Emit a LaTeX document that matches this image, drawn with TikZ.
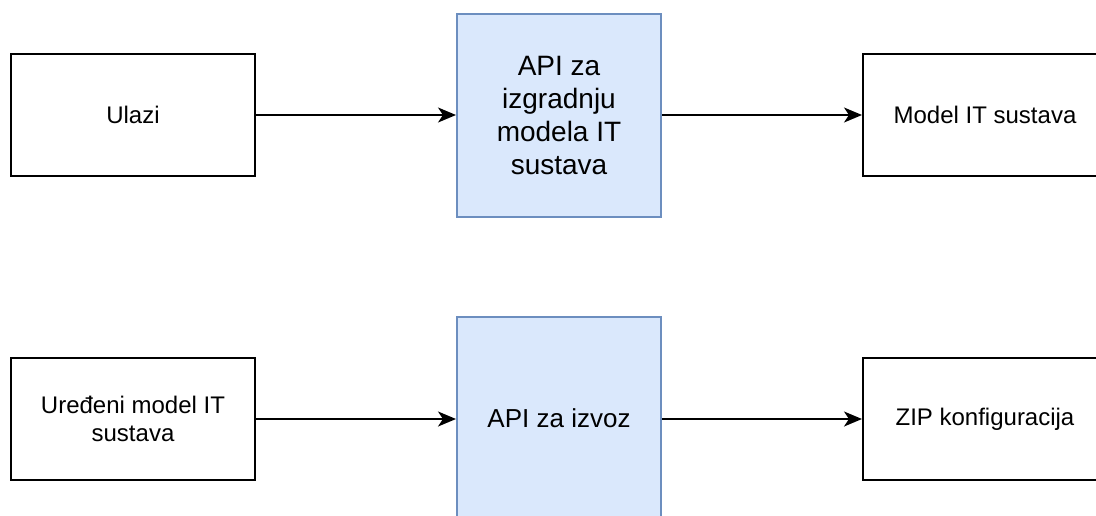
\documentclass[tikz,border=0pt]{standalone}
\usepackage{fontspec}
\setmainfont{Liberation Sans}
\usetikzlibrary{arrows.meta}
\definecolor{apifill}{HTML}{DAE8FC}
\definecolor{apiline}{HTML}{6C8EBF}
\tikzset{
  plainbox/.style={draw=black, line width=2pt, fill=white, rectangle,
    minimum width=244pt, minimum height=122pt, inner sep=0pt, align=center,
    font=\fontsize{24}{28.3}\selectfont},
  apibox/.style={draw=apiline, line width=2pt, fill=apifill, rectangle,
    minimum width=204pt, minimum height=203pt, inner sep=0pt, align=center},
  flow/.style={line width=2pt, -{Stealth[length=18pt, width=15pt, inset=5pt]}}
}
\begin{document}
\begin{tikzpicture}[x=1pt, y=-1pt]
  \useasboundingbox (0,0) rectangle (1096,515);
  \clip (0,0) rectangle (1096,515);
  \fill[white] (0,0) rectangle (1096,515);

  % model building row
  \node[plainbox] (ulazi) at (133,115) {Ulazi};
  \node[apibox, font=\fontsize{28}{33}\selectfont] (api1) at (559,115.5)
    {API za\\izgradnju\\modela IT\\sustava};
  \node[plainbox] (model) at (985,115) {Model IT sustava};

  % export row
  \node[plainbox] (uredeni) at (133,419) {Uređeni model IT\\sustava};
  \node[apibox, font=\fontsize{26}{30}\selectfont] (api2) at (559,418.5) {API za izvoz};
  \node[plainbox] (zip) at (985,419) {ZIP konfiguracija};

  \draw[flow] (ulazi.east) -- (api1.west |- ulazi.east);
  \draw[flow] (api1.east |- model.west) -- (model.west);
  \draw[flow] (uredeni.east) -- (api2.west |- uredeni.east);
  \draw[flow] (api2.east |- zip.west) -- (zip.west);
\end{tikzpicture}
\end{document}
